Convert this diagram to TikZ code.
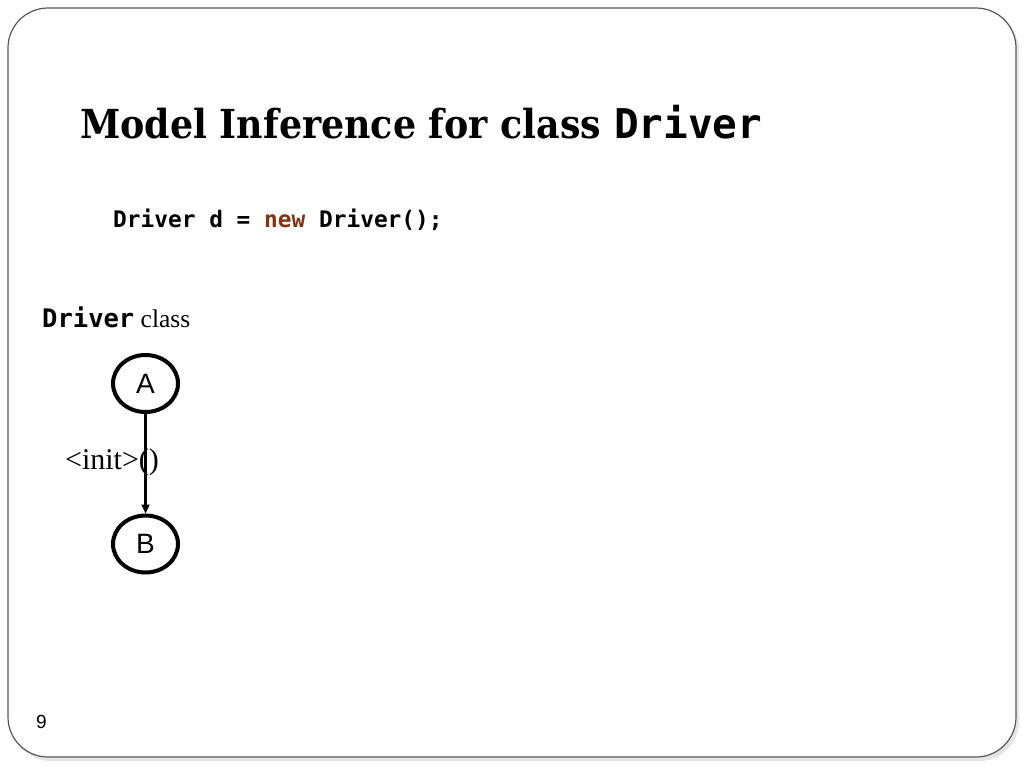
\documentclass[tikz,border=0pt]{standalone}
\usepackage{fontspec}
\setmainfont{Liberation Serif}
\setsansfont{Liberation Sans}
\setmonofont{DejaVu Sans Mono}
\newfontfamily\titlefont{DejaVu Serif Bold}[FakeStretch=0.91]
\usetikzlibrary{arrows.meta,shapes.geometric}
\definecolor{keyword}{RGB}{127,52,20}
\begin{document}
\begin{tikzpicture}
[x=1pt,y=-1pt,%
  nodedecorate/.style={shape=ellipse,minimum width=65pt,minimum height=57pt,inner sep=0pt,draw,line width=4pt,font=\sffamily\fontsize{28}{32}\selectfont},%
  linedecorate/.style={-{Triangle[length=9pt,width=8pt]},line width=2.5pt},%
  textdecorate/.style={anchor=base west,inner sep=0pt}]
\useasboundingbox (0,0) rectangle (1024,768);
%% slide frame
\fill[black!10,rounded corners=40pt] (11,11) rectangle (1019,761);
\draw[black!65,fill=white,line width=1.2pt,rounded corners=40pt] (8,8) rectangle (1016,757);
%% texts
\node (title) at (80,138) [textdecorate] {\titlefont\fontsize{40}{46}\selectfont Model Inference for class {\ttfamily\bfseries\fontsize{41}{46}\selectfont Driver}};
\node (code) at (113,227) [textdecorate] {\ttfamily\bfseries\fontsize{22.8}{26}\selectfont Driver d = \textcolor{keyword}{new} Driver();};
\node (classname) at (42,327) [textdecorate] {\fontsize{25.5}{30}\selectfont{\ttfamily\bfseries Driver} class};
\node (page) at (36,728) [textdecorate] {\sffamily\fontsize{19}{22}\selectfont 9};
%% nodes or vertices
\foreach \nodename/\x/\y in {A/145.5/383.5, B/145.5/544} {
  \node (\nodename) at (\x,\y) [nodedecorate] {\nodename};
}
%% edges or lines
\path (A) edge[linedecorate] (B);
\node (init) at (112,469) [anchor=base,inner sep=0pt,font=\fontsize{30}{34}\selectfont] {<init>()};
\end{tikzpicture}
\end{document}
